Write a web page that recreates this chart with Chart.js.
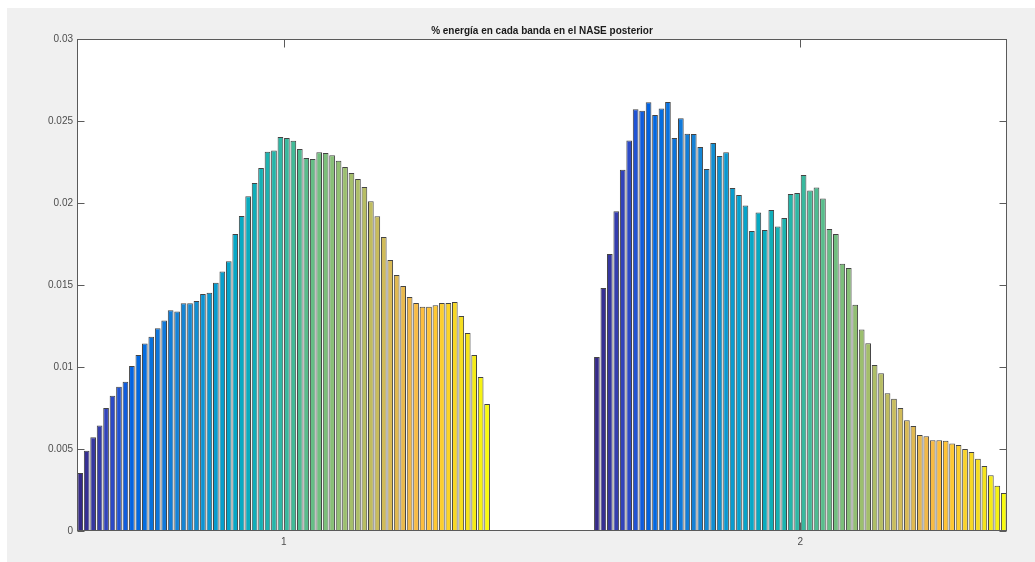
<!DOCTYPE html>
<html>
<head>
<meta charset="utf-8">
<script src="https://cdn.jsdelivr.net/npm/chart.js@4.4.1/dist/chart.umd.min.js"></script>
<style>
  html, body { margin: 0; padding: 0; background: #ffffff; }
  #fig { position: absolute; left: 7px; top: 8px; width: 1028px; height: 554px; background: #f0f0f0; }
</style>
</head>
<body>
<div id="fig"><canvas id="chart" width="1028" height="554"></canvas></div>
<script>
// group positions on the x axis
const groups = [1, 2];

// energy fraction per band, one value per band (64 bands) for each group
const group1 = [
  0.00354, 0.0049, 0.00571, 0.00644, 0.0075, 0.00825, 0.0088, 0.0091, 0.01006, 0.01073,
  0.01143, 0.01185, 0.01236, 0.01283, 0.01346, 0.01338, 0.01389, 0.01389, 0.01403, 0.01445,
  0.01452, 0.01513, 0.01582, 0.01645, 0.01811, 0.01921, 0.02041, 0.02122, 0.02214, 0.02312,
  0.0232, 0.02403, 0.02397, 0.02379, 0.0233, 0.02275, 0.02269, 0.0231, 0.02305, 0.02291,
  0.02257, 0.0222, 0.02183, 0.02147, 0.02098, 0.02011, 0.01919, 0.01793, 0.01653, 0.01561,
  0.01494, 0.01427, 0.01391, 0.01368, 0.01368, 0.01376, 0.01391, 0.01391, 0.01397, 0.01311,
  0.01208, 0.01073, 0.00939, 0.00775
];
const group2 = [
  0.01061, 0.01482, 0.01689, 0.0195, 0.02202, 0.02381, 0.02572, 0.02562, 0.02614, 0.02537,
  0.02576, 0.02616, 0.02397, 0.02517, 0.02423, 0.02421, 0.02342, 0.02208, 0.02366, 0.02287,
  0.02309, 0.02092, 0.02049, 0.01984, 0.0183, 0.01942, 0.01836, 0.01958, 0.01856, 0.01909,
  0.02055, 0.02061, 0.02171, 0.02076, 0.02094, 0.02027, 0.01842, 0.01811, 0.0163, 0.01604,
  0.0138, 0.01228, 0.01145, 0.01012, 0.00962, 0.0084, 0.00807, 0.0075, 0.00675, 0.0064,
  0.00586, 0.00577, 0.00553, 0.00553, 0.00551, 0.00533, 0.00525, 0.005, 0.00482, 0.00441,
  0.00396, 0.0034, 0.00276, 0.00232
];

// y axis ticks
const yTicks = [0, 0.005, 0.01, 0.015, 0.02, 0.025, 0.03];

const titleText = '% energía en cada banda en el NASE posterior';

// parula(64) colormap
const parula = [
  [0.2081,0.1663,0.5292],[0.2116,0.1898,0.5777],[0.2123,0.2138,0.6270],[0.2081,0.2386,0.6771],
  [0.1959,0.2645,0.7279],[0.1707,0.2919,0.7792],[0.1253,0.3242,0.8303],[0.0591,0.3598,0.8683],
  [0.0117,0.3875,0.8820],[0.0060,0.4086,0.8828],[0.0165,0.4266,0.8786],[0.0329,0.4430,0.8720],
  [0.0498,0.4586,0.8641],[0.0629,0.4737,0.8554],[0.0723,0.4887,0.8467],[0.0779,0.5040,0.8384],
  [0.0793,0.5200,0.8312],[0.0749,0.5375,0.8263],[0.0641,0.5570,0.8240],[0.0488,0.5772,0.8228],
  [0.0343,0.5966,0.8199],[0.0265,0.6137,0.8135],[0.0239,0.6287,0.8038],[0.0231,0.6418,0.7913],
  [0.0228,0.6535,0.7768],[0.0267,0.6642,0.7607],[0.0384,0.6743,0.7436],[0.0590,0.6838,0.7254],
  [0.0843,0.6928,0.7062],[0.1133,0.7015,0.6859],[0.1453,0.7098,0.6646],[0.1801,0.7177,0.6424],
  [0.2178,0.7250,0.6193],[0.2586,0.7317,0.5954],[0.3022,0.7376,0.5712],[0.3482,0.7424,0.5473],
  [0.3953,0.7459,0.5244],[0.4420,0.7481,0.5033],[0.4871,0.7491,0.4840],[0.5300,0.7491,0.4661],
  [0.5709,0.7485,0.4494],[0.6099,0.7473,0.4337],[0.6473,0.7456,0.4188],[0.6834,0.7435,0.4044],
  [0.7184,0.7411,0.3905],[0.7525,0.7384,0.3768],[0.7858,0.7356,0.3633],[0.8185,0.7327,0.3498],
  [0.8507,0.7299,0.3360],[0.8824,0.7274,0.3217],[0.9139,0.7258,0.3063],[0.9450,0.7261,0.2886],
  [0.9739,0.7314,0.2666],[0.9938,0.7455,0.2403],[0.9990,0.7653,0.2164],[0.9955,0.7861,0.1967],
  [0.9880,0.8066,0.1794],[0.9789,0.8271,0.1633],[0.9697,0.8481,0.1475],[0.9626,0.8705,0.1309],
  [0.9589,0.8949,0.1132],[0.9598,0.9218,0.0948],[0.9661,0.9514,0.0755],[0.9763,0.9831,0.0538]
];
const toRgb = c => 'rgb(' + c.map(v => Math.round(v * 255)).join(',') + ')';

const datasets = group1.map((v, i) => ({
  label: 'banda ' + (i + 1),
  data: [{ x: groups[0], y: v }, { x: groups[1], y: group2[i] }],
  backgroundColor: toRgb(parula[i]),
  borderColor: 'rgba(20,20,20,0.8)',
  borderWidth: 1,
  barPercentage: 0.88,
  categoryPercentage: 0.8
}));

const FONT = "'Liberation Sans', Arial, Helvetica, sans-serif";

// white axes background, box, inward ticks and title (MATLAB look)
const matlabAxes = {
  id: 'matlabAxes',
  beforeDraw(chart) {
    const a = chart.chartArea;
    const ctx = chart.ctx;
    ctx.save();
    ctx.fillStyle = '#ffffff';
    ctx.fillRect(a.left, a.top, a.right - a.left, a.bottom - a.top);
    ctx.restore();
  },
  afterDraw(chart) {
    const a = chart.chartArea;
    const ctx = chart.ctx;
    const xs = chart.scales.x, ys = chart.scales.y;
    const L = Math.round(a.left) + 0.5, R = Math.round(a.right) - 0.5;
    const T = Math.round(a.top) + 0.5, B = Math.round(a.bottom) - 0.5;
    ctx.save();
    ctx.strokeStyle = '#5a5a5a';
    ctx.lineWidth = 1;
    ctx.strokeRect(L, T, R - L, B - T);
    ctx.beginPath();
    yTicks.forEach(v => {
      const y = Math.round(ys.getPixelForValue(v)) + 0.5;
      ctx.moveTo(L, y); ctx.lineTo(L + 7, y);
      ctx.moveTo(R, y); ctx.lineTo(R - 7, y);
    });
    groups.forEach(g => {
      const x = Math.round(xs.getPixelForValue(g)) + 0.5;
      ctx.moveTo(x, B); ctx.lineTo(x, B - 8);
      ctx.moveTo(x, T); ctx.lineTo(x, T + 8);
    });
    ctx.stroke();
    ctx.fillStyle = '#1a1a1a';
    ctx.font = 'bold 10px ' + FONT;
    ctx.textAlign = 'center';
    ctx.textBaseline = 'middle';
    ctx.fillText(titleText, (a.left + a.right) / 2, a.top - 8);
    ctx.restore();
  }
};

new Chart(document.getElementById('chart'), {
  type: 'bar',
  data: { datasets: datasets },
  options: {
    responsive: false,
    animation: false,
    layout: { padding: { top: 31, right: 28, left: 0, bottom: 0 } },
    plugins: { legend: { display: false }, tooltip: { enabled: false }, title: { display: false } },
    scales: {
      x: {
        type: 'linear',
        min: 0.6,
        max: 2.4,
        offset: false,
        grid: { display: false, drawTicks: false, offset: false },
        border: { display: false },
        afterBuildTicks: s => { s.ticks = groups.map(g => ({ value: g })); },
        afterFit: s => { s.height = 31; },
        ticks: {
          padding: 5,
          color: '#4d4d4d',
          font: { family: FONT, size: 10 },
          callback: v => String(v)
        }
      },
      y: {
        min: 0,
        max: 0.03,
        grid: { display: false, drawTicks: false },
        border: { display: false },
        afterBuildTicks: s => { s.ticks = yTicks.map(v => ({ value: v })); },
        afterFit: s => { s.width = 70; },
        ticks: {
          padding: 4,
          color: '#4d4d4d',
          font: { family: FONT, size: 10 },
          callback: v => String(+v.toFixed(3))
        }
      }
    }
  },
  plugins: [matlabAxes]
});
</script>
</body>
</html>
